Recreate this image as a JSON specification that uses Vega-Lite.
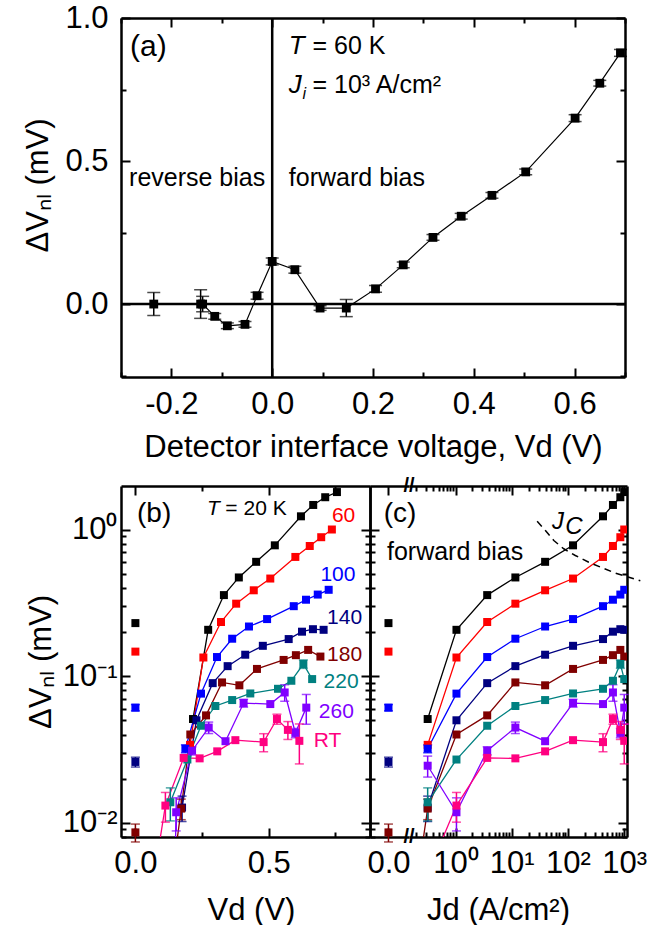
{
  "$schema": "https://vega.github.io/schema/vega-lite/v6.json",
  "background": "white",
  "padding": {"left": 22, "top": 2, "right": 0, "bottom": 0},
  "config": {
    "view": {"stroke": null},
    "font": "Liberation Sans",
    "text": {"font": "Liberation Sans", "color": "black"},
    "axis": {
      "labelFont": "Liberation Sans", "titleFont": "Liberation Sans",
      "labelFontSize": 31, "titleFontSize": 31, "titleFontWeight": "normal",
      "labelColor": "black", "titleColor": "black", "domainColor": "black", "tickColor": "black",
      "domainWidth": 2.5, "tickWidth": 2, "grid": false,
      "labelFlush": false, "labelOverlap": false, "labelBound": false
    }
  },
  "datasets": {
    "a": [
      {"V": -0.235, "y": 0.0, "e": 0.04},
      {"V": -0.142, "y": 0.0, "e": 0.05},
      {"V": -0.138, "y": 0.0, "e": 0.027},
      {"V": -0.114, "y": -0.043, "e": 0.01},
      {"V": -0.089, "y": -0.076, "e": 0.01},
      {"V": -0.054, "y": -0.071, "e": 0.01},
      {"V": -0.030, "y": 0.029, "e": 0.012},
      {"V": 0.0, "y": 0.149, "e": 0.012},
      {"V": 0.045, "y": 0.120, "e": 0.012},
      {"V": 0.095, "y": -0.014, "e": 0.008},
      {"V": 0.147, "y": -0.014, "e": 0.03},
      {"V": 0.205, "y": 0.053, "e": 0.012},
      {"V": 0.26, "y": 0.137, "e": 0.01},
      {"V": 0.319, "y": 0.233, "e": 0.01},
      {"V": 0.375, "y": 0.307, "e": 0.01},
      {"V": 0.436, "y": 0.380, "e": 0.01},
      {"V": 0.503, "y": 0.462, "e": 0.01},
      {"V": 0.601, "y": 0.650, "e": 0.012},
      {"V": 0.650, "y": 0.772, "e": 0.01},
      {"V": 0.691, "y": 0.878, "e": 0.012}
    ],
    "bc": [
      {"s": "20 K", "V": 0, "J": 0, "y": 0.23, "e": 0},
      {"s": "20 K", "V": 0.216, "J": 0.32, "y": 0.051, "e": 0},
      {"s": "20 K", "V": 0.273, "J": 1.04, "y": 0.207, "e": 0},
      {"s": "20 K", "V": 0.332, "J": 3.66, "y": 0.357, "e": 0},
      {"s": "20 K", "V": 0.388, "J": 11.6, "y": 0.471, "e": 0},
      {"s": "20 K", "V": 0.453, "J": 39.2, "y": 0.602, "e": 0},
      {"s": "20 K", "V": 0.523, "J": 123, "y": 0.78, "e": 0},
      {"s": "20 K", "V": 0.621, "J": 419, "y": 1.23, "e": 0},
      {"s": "20 K", "V": 0.667, "J": 630, "y": 1.47, "e": 0},
      {"s": "20 K", "V": 0.712, "J": 853, "y": 1.66, "e": 0},
      {"s": "20 K", "V": 0.756, "J": 1000, "y": 1.8, "e": 0},
      {"s": "60", "V": 0, "J": 0, "y": 0.147, "e": 0},
      {"s": "60", "V": 0.205, "J": 0.32, "y": 0.034, "e": 0},
      {"s": "60", "V": 0.255, "J": 1.04, "y": 0.134, "e": 0},
      {"s": "60", "V": 0.321, "J": 3.66, "y": 0.234, "e": 0},
      {"s": "60", "V": 0.378, "J": 11.6, "y": 0.312, "e": 0},
      {"s": "60", "V": 0.444, "J": 39.2, "y": 0.385, "e": 0},
      {"s": "60", "V": 0.506, "J": 123, "y": 0.463, "e": 0},
      {"s": "60", "V": 0.6, "J": 419, "y": 0.65, "e": 0},
      {"s": "60", "V": 0.654, "J": 630, "y": 0.772, "e": 0},
      {"s": "60", "V": 0.697, "J": 853, "y": 0.886, "e": 0},
      {"s": "60", "V": 0.737, "J": 1000, "y": 1.0, "e": 0},
      {"s": "100", "V": 0, "J": 0, "y": 0.061, "e": 0.003},
      {"s": "100", "V": 0.1875, "J": 0.32, "y": 0.032, "e": 0.002},
      {"s": "100", "V": 0.246, "J": 1.04, "y": 0.076, "e": 0},
      {"s": "100", "V": 0.306, "J": 3.66, "y": 0.135, "e": 0},
      {"s": "100", "V": 0.363, "J": 11.6, "y": 0.18, "e": 0},
      {"s": "100", "V": 0.426, "J": 39.2, "y": 0.218, "e": 0},
      {"s": "100", "V": 0.494, "J": 123, "y": 0.245, "e": 0},
      {"s": "100", "V": 0.594, "J": 419, "y": 0.3, "e": 0},
      {"s": "100", "V": 0.64, "J": 630, "y": 0.332, "e": 0},
      {"s": "100", "V": 0.684, "J": 853, "y": 0.36, "e": 0},
      {"s": "100", "V": 0.725, "J": 1000, "y": 0.388, "e": 0},
      {"s": "140", "V": 0, "J": 0, "y": 0.026, "e": 0.002},
      {"s": "140", "V": 0.175, "J": 0.32, "y": 0.0127, "e": 0.0025},
      {"s": "140", "V": 0.229, "J": 1.04, "y": 0.05, "e": 0},
      {"s": "140", "V": 0.29, "J": 3.66, "y": 0.0896, "e": 0},
      {"s": "140", "V": 0.346, "J": 11.6, "y": 0.117, "e": 0},
      {"s": "140", "V": 0.412, "J": 39.2, "y": 0.14, "e": 0},
      {"s": "140", "V": 0.478, "J": 123, "y": 0.161, "e": 0},
      {"s": "140", "V": 0.575, "J": 419, "y": 0.179, "e": 0},
      {"s": "140", "V": 0.625, "J": 630, "y": 0.201, "e": 0},
      {"s": "140", "V": 0.666, "J": 853, "y": 0.209, "e": 0},
      {"s": "140", "V": 0.706, "J": 1000, "y": 0.207, "e": 0},
      {"s": "180", "V": 0, "J": 0, "y": 0.0086, "e": 0.0012},
      {"s": "180", "V": 0.143, "J": 0.226, "y": 0.005, "e": 0},
      {"s": "180", "V": 0.172, "J": 0.32, "y": 0.0125, "e": 0.002},
      {"s": "180", "V": 0.206, "J": 1.04, "y": 0.04, "e": 0},
      {"s": "180", "V": 0.265, "J": 3.66, "y": 0.054, "e": 0},
      {"s": "180", "V": 0.325, "J": 11.6, "y": 0.0906, "e": 0},
      {"s": "180", "V": 0.39, "J": 39.2, "y": 0.0866, "e": 0},
      {"s": "180", "V": 0.456, "J": 123, "y": 0.112, "e": 0},
      {"s": "180", "V": 0.556, "J": 419, "y": 0.129, "e": 0},
      {"s": "180", "V": 0.602, "J": 630, "y": 0.139, "e": 0},
      {"s": "180", "V": 0.648, "J": 853, "y": 0.151, "e": 0},
      {"s": "180", "V": 0.694, "J": 1000, "y": 0.136, "e": 0},
      {"s": "220", "V": 0.131, "J": 0.32, "y": 0.0138, "e": 0.0035},
      {"s": "220", "V": 0.195, "J": 1.04, "y": 0.027, "e": 0},
      {"s": "220", "V": 0.246, "J": 3.66, "y": 0.0459, "e": 0},
      {"s": "220", "V": 0.3, "J": 11.6, "y": 0.0626, "e": 0},
      {"s": "220", "V": 0.363, "J": 39.2, "y": 0.0687, "e": 0},
      {"s": "220", "V": 0.431, "J": 123, "y": 0.0762, "e": 0},
      {"s": "220", "V": 0.535, "J": 419, "y": 0.082, "e": 0},
      {"s": "220", "V": 0.585, "J": 630, "y": 0.093, "e": 0},
      {"s": "220", "V": 0.63, "J": 853, "y": 0.121, "e": 0.008},
      {"s": "220", "V": 0.663, "J": 1000, "y": 0.0955, "e": 0},
      {"s": "260", "V": 0.148, "J": null, "y": 0.005, "e": 0},
      {"s": "260", "V": null, "J": 0.32, "y": 0.0245, "e": 0.004},
      {"s": "260", "V": 0.153, "J": 1.04, "y": 0.0118, "e": 0.003},
      {"s": "260", "V": 0.2125, "J": 3.66, "y": 0.031, "e": 0.002},
      {"s": "260", "V": 0.275, "J": 11.6, "y": 0.0446, "e": 0.004},
      {"s": "260", "V": 0.338, "J": 39.2, "y": 0.036, "e": 0},
      {"s": "260", "V": 0.406, "J": 123, "y": 0.0655, "e": 0.004},
      {"s": "260", "V": 0.506, "J": 419, "y": 0.0645, "e": 0},
      {"s": "260", "V": 0.56, "J": 630, "y": 0.0774, "e": 0.01},
      {"s": "260", "V": 0.6, "J": 853, "y": 0.041, "e": 0.003},
      {"s": "260", "V": 0.641, "J": 1000, "y": 0.061, "e": 0.014},
      {"s": "RT", "V": 0.076, "J": 0.36, "y": 0.005, "e": 0},
      {"s": "RT", "V": 0.1125, "J": 1.04, "y": 0.0131, "e": 0.003},
      {"s": "RT", "V": 0.181, "J": 3.66, "y": 0.0277, "e": 0},
      {"s": "RT", "V": 0.241, "J": 11.6, "y": 0.0275, "e": 0},
      {"s": "RT", "V": 0.307, "J": 39.2, "y": 0.0307, "e": 0},
      {"s": "RT", "V": 0.375, "J": 123, "y": 0.0366, "e": 0},
      {"s": "RT", "V": 0.481, "J": 419, "y": 0.0355, "e": 0.005},
      {"s": "RT", "V": 0.531, "J": 630, "y": 0.051, "e": 0.004},
      {"s": "RT", "V": 0.572, "J": 853, "y": 0.043, "e": 0.006},
      {"s": "RT", "V": 0.615, "J": 1000, "y": 0.0362, "e": 0.011}
    ],
    "jc": [
      {"J": 28.3, "y": 1.14}, {"J": 39.7, "y": 0.984}, {"J": 56, "y": 0.841},
      {"J": 84, "y": 0.739}, {"J": 135, "y": 0.665}, {"J": 234, "y": 0.598},
      {"J": 404, "y": 0.548}, {"J": 695, "y": 0.504}, {"J": 1932, "y": 0.447}
    ]
  },
  "spacing": 109,
  "bounds": "flush",
  "vconcat": [
    {
      "width": 504, "height": 359,
      "data": {"name": "a"},
      "resolve": {"axis": {"x": "independent", "y": "independent"}},
      "layer": [
        {
          "mark": {"type": "point", "opacity": 0},
          "encoding": {
            "x": {"field": "V", "type": "quantitative", "scale": {"domain": [-0.3, 0.7], "nice": false, "zero": false},
              "axis": {"orient": "bottom", "values": [-0.3, -0.2, -0.1, 0, 0.1, 0.2, 0.3, 0.4, 0.5, 0.6, 0.7],
                "labelExpr": "abs(round(datum.value*10)) % 2 == 0 ? replace(format(datum.value, '.1f'), '−', '-') : ''",
                "tickSize": {"condition": {"test": "abs(round(datum.value*10)) % 2 == 0", "value": -9}, "value": -5},
                "labelPadding": 21, "title": "Detector interface voltage, Vd (V)", "titleY": 79, "titleBaseline": "alphabetic"}},
            "y": {"field": "y", "type": "quantitative", "scale": {"domain": [-0.255, 1.0], "nice": false, "zero": false},
              "axis": {"orient": "left", "values": [-0.25, 0, 0.25, 0.5, 0.75, 1.0],
                "labelExpr": "abs(round(datum.value*4)) % 2 == 0 ? format(datum.value, '.1f') : ''",
                "tickSize": {"condition": {"test": "abs(round(datum.value*4)) % 2 == 0", "value": -9}, "value": -5},
                "labelPadding": 22, "title": "ΔVₙₗ (mV)", "titleX": -83, "titleY": 167, "titleBaseline": "middle"}}
          }
        },
        {
          "mark": {"type": "point", "opacity": 0},
          "encoding": {
            "x": {"field": "V", "type": "quantitative", "scale": {"domain": [-0.3, 0.7], "nice": false, "zero": false},
              "axis": {"orient": "top", "values": [-0.3, -0.2, -0.1, 0, 0.1, 0.2, 0.3, 0.4, 0.5, 0.6, 0.7], "labels": false, "title": null,
                "tickSize": {"condition": {"test": "abs(round(datum.value*10)) % 2 == 0", "value": -9}, "value": -5}}},
            "y": {"field": "y", "type": "quantitative", "scale": {"domain": [-0.255, 1.0], "nice": false, "zero": false},
              "axis": {"orient": "right", "values": [-0.25, 0, 0.25, 0.5, 0.75, 1.0], "labels": false, "title": null,
                "tickSize": {"condition": {"test": "abs(round(datum.value*4)) % 2 == 0", "value": -9}, "value": -5}}}
          }
        },
        {
          "data": {"values": [{"V": 0}]},
          "mark": {"type": "rule", "strokeWidth": 2.5, "color": "black"},
          "encoding": {"x": {"field": "V", "type": "quantitative", "scale": {"domain": [-0.3, 0.7], "nice": false, "zero": false}, "axis": null}}
        },
        {
          "data": {"values": [{"y": 0}]},
          "mark": {"type": "rule", "strokeWidth": 2.5, "color": "black"},
          "encoding": {"y": {"field": "y", "type": "quantitative", "scale": {"domain": [-0.255, 1.0], "nice": false, "zero": false}, "axis": null}}
        },
        {
          "mark": {"type": "line", "color": "black", "strokeWidth": 1.2},
          "encoding": {
            "x": {"field": "V", "type": "quantitative", "scale": {"domain": [-0.3, 0.7], "nice": false, "zero": false}, "axis": null},
            "y": {"field": "y", "type": "quantitative", "scale": {"domain": [-0.255, 1.0], "nice": false, "zero": false}, "axis": null}
          }
        },
        {
          "mark": {"type": "errorbar", "ticks": {"size": 13}, "thickness": 1.5, "color": "black"},
          "encoding": {
            "x": {"field": "V", "type": "quantitative", "scale": {"domain": [-0.3, 0.7], "nice": false, "zero": false}, "axis": null},
            "y": {"field": "y", "type": "quantitative", "scale": {"domain": [-0.255, 1.0], "nice": false, "zero": false}, "axis": null},
            "yError": {"field": "e"}
          }
        },
        {
          "mark": {"type": "square", "size": 78, "color": "black", "opacity": 1},
          "encoding": {
            "x": {"field": "V", "type": "quantitative", "scale": {"domain": [-0.3, 0.7], "nice": false, "zero": false}, "axis": null},
            "y": {"field": "y", "type": "quantitative", "scale": {"domain": [-0.255, 1.0], "nice": false, "zero": false}, "axis": null}
          }
        },
        {
          "data": {"values": [
            {"V": 0.033, "y": 0.44, "t": "forward bias"},
            {"V": -0.284, "y": 0.44, "t": "reverse bias"},
            {"V": 0.080, "y": 0.901, "t": "= 60 K"},
            {"V": 0.080, "y": 0.767, "t": "= 10³ A/cm²"}
          ]},
          "mark": {"type": "text", "fontSize": 25, "align": "left", "baseline": "middle"},
          "encoding": {
            "x": {"field": "V", "type": "quantitative", "scale": {"domain": [-0.3, 0.7], "nice": false, "zero": false}, "axis": null},
            "y": {"field": "y", "type": "quantitative", "scale": {"domain": [-0.255, 1.0], "nice": false, "zero": false}, "axis": null},
            "text": {"field": "t"}
          }
        },
        {
          "data": {"values": [
            {"V": 0.033, "y": 0.901, "t": "T"},
            {"V": 0.033, "y": 0.767, "t": "J"}
          ]},
          "mark": {"type": "text", "fontSize": 26, "fontStyle": "italic", "align": "left", "baseline": "middle"},
          "encoding": {
            "x": {"field": "V", "type": "quantitative", "scale": {"domain": [-0.3, 0.7], "nice": false, "zero": false}, "axis": null},
            "y": {"field": "y", "type": "quantitative", "scale": {"domain": [-0.255, 1.0], "nice": false, "zero": false}, "axis": null},
            "text": {"field": "t"}
          }
        },
        {
          "data": {"values": [{"V": 0.060, "y": 0.735, "t": "i"}]},
          "mark": {"type": "text", "fontSize": 16, "fontStyle": "italic", "align": "left", "baseline": "middle"},
          "encoding": {
            "x": {"field": "V", "type": "quantitative", "scale": {"domain": [-0.3, 0.7], "nice": false, "zero": false}, "axis": null},
            "y": {"field": "y", "type": "quantitative", "scale": {"domain": [-0.255, 1.0], "nice": false, "zero": false}, "axis": null},
            "text": {"field": "t"}
          }
        },
        {
          "data": {"values": [{"V": -0.282, "y": 0.9, "t": "(a)"}]},
          "mark": {"type": "text", "fontSize": 30, "align": "left", "baseline": "middle"},
          "encoding": {
            "x": {"field": "V", "type": "quantitative", "scale": {"domain": [-0.3, 0.7], "nice": false, "zero": false}, "axis": null},
            "y": {"field": "y", "type": "quantitative", "scale": {"domain": [-0.255, 1.0], "nice": false, "zero": false}, "axis": null},
            "text": {"field": "t"}
          }
        }
      ]
    },
    {
      "spacing": 0,
      "bounds": "flush",
      "hconcat": [
        {
          "width": 249, "height": 351,
          "data": {"name": "bc"},
          "resolve": {"axis": {"x": "independent", "y": "independent"}},
          "layer": [
            {
              "transform": [{"filter": "isValid(datum.V)"}],
              "mark": {"type": "point", "opacity": 0},
              "encoding": {
                "x": {"field": "V", "type": "quantitative", "scale": {"domain": [-0.054, 0.88], "nice": false, "zero": false},
                  "axis": {"orient": "bottom", "values": [0, 0.25, 0.5, 0.75],
                    "labelExpr": "datum.value == 0 ? '0.0' : datum.value == 0.5 ? '0.5' : ''",
                    "tickSize": {"condition": {"test": "datum.value == 0 || datum.value == 0.5", "value": -9}, "value": -5},
                    "labelPadding": 20, "title": "Vd (V)", "titleX": 130, "titleY": 82, "titleBaseline": "alphabetic"}},
                "y": {"field": "y", "type": "quantitative", "scale": {"type": "log", "domain": [0.008, 1.98], "nice": false},
                  "axis": {"orient": "left", "values": [0.008, 0.009, 0.01, 0.02, 0.03, 0.04, 0.05, 0.06, 0.07, 0.08, 0.09, 0.1, 0.2, 0.3, 0.4, 0.5, 0.6, 0.7, 0.8, 0.9, 1],
                    "labelExpr": "datum.value == 1 ? '10⁰' : datum.value == 0.1 ? '10⁻¹' : datum.value == 0.01 ? '10⁻²' : ''",
                    "tickSize": {"condition": {"test": "datum.value == 1 || datum.value == 0.1 || datum.value == 0.01", "value": -9}, "value": -5},
                    "labelPadding": 13, "title": "ΔVₙₗ (mV)", "titleX": -80, "titleBaseline": "middle"}}
              }
            },
            {
              "transform": [{"filter": "isValid(datum.V)"}],
              "mark": {"type": "point", "opacity": 0},
              "encoding": {
                "x": {"field": "V", "type": "quantitative", "scale": {"domain": [-0.054, 0.88], "nice": false, "zero": false},
                  "axis": {"orient": "top", "values": [0, 0.25, 0.5, 0.75], "labels": false, "title": null,
                    "tickSize": {"condition": {"test": "datum.value == 0 || datum.value == 0.5", "value": -9}, "value": -5}}},
                "y": {"field": "y", "type": "quantitative", "scale": {"type": "log", "domain": [0.008, 1.98], "nice": false},
                  "axis": {"orient": "right", "values": [0.008, 0.009, 0.01, 0.02, 0.03, 0.04, 0.05, 0.06, 0.07, 0.08, 0.09, 0.1, 0.2, 0.3, 0.4, 0.5, 0.6, 0.7, 0.8, 0.9, 1],
                    "labels": false, "title": null,
                    "tickSize": {"condition": {"test": "datum.value == 1 || datum.value == 0.1 || datum.value == 0.01", "value": -9}, "value": -5}}}
              }
            },
            {
              "transform": [{"filter": "isValid(datum.V) && datum.V > 0"}],
              "mark": {"type": "line", "strokeWidth": 1.3, "clip": true},
              "encoding": {
                "x": {"field": "V", "type": "quantitative", "scale": {"domain": [-0.054, 0.88], "nice": false, "zero": false}, "axis": null},
                "y": {"field": "y", "type": "quantitative", "scale": {"type": "log", "domain": [0.008, 1.98], "nice": false}, "axis": null},
                "color": {"field": "s", "type": "nominal", "scale": {"domain": ["20 K", "60", "100", "140", "180", "220", "260", "RT"], "range": ["#000000", "#ff0000", "#0000ff", "#000080", "#800000", "#008080", "#8000ff", "#ff0080"]}, "legend": null}
              }
            },
            {
              "transform": [{"filter": "isValid(datum.V) && datum.e > 0"}],
              "mark": {"type": "errorbar", "ticks": {"size": 9}, "thickness": 1.5},
              "encoding": {
                "x": {"field": "V", "type": "quantitative", "scale": {"domain": [-0.054, 0.88], "nice": false, "zero": false}, "axis": null},
                "y": {"field": "y", "type": "quantitative", "scale": {"type": "log", "domain": [0.008, 1.98], "nice": false}, "axis": null},
                "yError": {"field": "e"},
                "color": {"field": "s", "type": "nominal", "scale": {"domain": ["20 K", "60", "100", "140", "180", "220", "260", "RT"], "range": ["#000000", "#ff0000", "#0000ff", "#000080", "#800000", "#008080", "#8000ff", "#ff0080"]}, "legend": null}
              }
            },
            {
              "transform": [{"filter": "isValid(datum.V)"}],
              "mark": {"type": "square", "size": 64, "opacity": 1, "clip": true},
              "encoding": {
                "x": {"field": "V", "type": "quantitative", "scale": {"domain": [-0.054, 0.88], "nice": false, "zero": false}, "axis": null},
                "y": {"field": "y", "type": "quantitative", "scale": {"type": "log", "domain": [0.008, 1.98], "nice": false}, "axis": null},
                "color": {"field": "s", "type": "nominal", "scale": {"domain": ["20 K", "60", "100", "140", "180", "220", "260", "RT"], "range": ["#000000", "#ff0000", "#0000ff", "#000080", "#800000", "#008080", "#8000ff", "#ff0080"]}, "legend": null}
              }
            },
            {
              "data": {"values": [
                {"V": 0.737, "y": 1.24, "t": "60", "s": "60"},
                {"V": 0.694, "y": 0.489, "t": "100", "s": "100"},
                {"V": 0.719, "y": 0.251, "t": "140", "s": "140"},
                {"V": 0.719, "y": 0.139, "t": "180", "s": "180"},
                {"V": 0.706, "y": 0.0916, "t": "220", "s": "220"},
                {"V": 0.688, "y": 0.0572, "t": "260", "s": "260"},
                {"V": 0.669, "y": 0.0363, "t": "RT", "s": "RT"}
              ]},
              "mark": {"type": "text", "fontSize": 21, "align": "left", "baseline": "middle"},
              "encoding": {
                "x": {"field": "V", "type": "quantitative", "scale": {"domain": [-0.054, 0.88], "nice": false, "zero": false}, "axis": null},
                "y": {"field": "y", "type": "quantitative", "scale": {"type": "log", "domain": [0.008, 1.98], "nice": false}, "axis": null},
                "text": {"field": "t"},
                "color": {"field": "s", "type": "nominal", "scale": {"domain": ["20 K", "60", "100", "140", "180", "220", "260", "RT"], "range": ["#000000", "#ff0000", "#0000ff", "#000080", "#800000", "#008080", "#8000ff", "#ff0080"]}, "legend": null}
              }
            },
            {
              "data": {"values": [{"V": 0.3375, "y": 1.375, "t": "= 20 K"}]},
              "mark": {"type": "text", "fontSize": 21, "align": "left", "baseline": "middle"},
              "encoding": {
                "x": {"field": "V", "type": "quantitative", "scale": {"domain": [-0.054, 0.88], "nice": false, "zero": false}, "axis": null},
                "y": {"field": "y", "type": "quantitative", "scale": {"type": "log", "domain": [0.008, 1.98], "nice": false}, "axis": null},
                "text": {"field": "t"}
              }
            },
            {
              "data": {"values": [{"V": 0.269, "y": 1.375, "t": "T"}]},
              "mark": {"type": "text", "fontSize": 21, "fontStyle": "italic", "align": "left", "baseline": "middle"},
              "encoding": {
                "x": {"field": "V", "type": "quantitative", "scale": {"domain": [-0.054, 0.88], "nice": false, "zero": false}, "axis": null},
                "y": {"field": "y", "type": "quantitative", "scale": {"type": "log", "domain": [0.008, 1.98], "nice": false}, "axis": null},
                "text": {"field": "t"}
              }
            },
            {
              "data": {"values": [{"V": 0.006, "y": 1.27, "t": "(b)"}]},
              "mark": {"type": "text", "fontSize": 28, "align": "left", "baseline": "middle"},
              "encoding": {
                "x": {"field": "V", "type": "quantitative", "scale": {"domain": [-0.054, 0.88], "nice": false, "zero": false}, "axis": null},
                "y": {"field": "y", "type": "quantitative", "scale": {"type": "log", "domain": [0.008, 1.98], "nice": false}, "axis": null},
                "text": {"field": "t"}
              }
            }
          ]
        },
        {
          "width": 39, "height": 351,
          "data": {"name": "bc"},
          "resolve": {"axis": {"x": "independent", "y": "independent"}},
          "layer": [
            {
              "transform": [{"filter": "datum.J === 0"}],
              "mark": {"type": "point", "opacity": 0},
              "encoding": {
                "x": {"field": "J", "type": "quantitative", "scale": {"domain": [-0.9, 1.0], "nice": false, "zero": false},
                  "axis": {"orient": "bottom", "values": [0], "labelExpr": "'0.0'", "tickSize": -9, "labelPadding": 20, "title": null}},
                "y": {"field": "y", "type": "quantitative", "scale": {"type": "log", "domain": [0.008, 1.98], "nice": false},
                  "axis": {"orient": "left", "values": [0.008, 0.009, 0.01, 0.02, 0.03, 0.04, 0.05, 0.06, 0.07, 0.08, 0.09, 0.1, 0.2, 0.3, 0.4, 0.5, 0.6, 0.7, 0.8, 0.9, 1],
                    "labels": false, "title": null,
                    "tickSize": {"condition": {"test": "datum.value == 1 || datum.value == 0.1 || datum.value == 0.01", "value": -9}, "value": -5}}}
              }
            },
            {
              "transform": [{"filter": "datum.J === 0"}],
              "mark": {"type": "point", "opacity": 0},
              "encoding": {
                "x": {"field": "J", "type": "quantitative", "scale": {"domain": [-0.9, 1.0], "nice": false, "zero": false},
                  "axis": {"orient": "top", "values": [0], "labels": false, "tickSize": -9, "title": null}},
                "y": {"field": "y", "type": "quantitative", "scale": {"type": "log", "domain": [0.008, 1.98], "nice": false}, "axis": null}
              }
            },
            {
              "transform": [{"filter": "datum.J === 0 && datum.e > 0"}],
              "mark": {"type": "errorbar", "ticks": {"size": 9}, "thickness": 1.5},
              "encoding": {
                "x": {"field": "J", "type": "quantitative", "scale": {"domain": [-0.9, 1.0], "nice": false, "zero": false}, "axis": null},
                "y": {"field": "y", "type": "quantitative", "scale": {"type": "log", "domain": [0.008, 1.98], "nice": false}, "axis": null},
                "yError": {"field": "e"},
                "color": {"field": "s", "type": "nominal", "scale": {"domain": ["20 K", "60", "100", "140", "180", "220", "260", "RT"], "range": ["#000000", "#ff0000", "#0000ff", "#000080", "#800000", "#008080", "#8000ff", "#ff0080"]}, "legend": null}
              }
            },
            {
              "transform": [{"filter": "datum.J === 0"}],
              "mark": {"type": "square", "size": 64, "opacity": 1, "clip": true},
              "encoding": {
                "x": {"field": "J", "type": "quantitative", "scale": {"domain": [-0.9, 1.0], "nice": false, "zero": false}, "axis": null},
                "y": {"field": "y", "type": "quantitative", "scale": {"type": "log", "domain": [0.008, 1.98], "nice": false}, "axis": null},
                "color": {"field": "s", "type": "nominal", "scale": {"domain": ["20 K", "60", "100", "140", "180", "220", "260", "RT"], "range": ["#000000", "#ff0000", "#0000ff", "#000080", "#800000", "#008080", "#8000ff", "#ff0080"]}, "legend": null}
              }
            },
            {
              "data": {"values": [{"J": -0.234, "y": 1.27, "t": "(c)"}]},
              "mark": {"type": "text", "fontSize": 28, "align": "left", "baseline": "middle", "clip": false},
              "encoding": {
                "x": {"field": "J", "type": "quantitative", "scale": {"domain": [-0.9, 1.0], "nice": false, "zero": false}, "axis": null},
                "y": {"field": "y", "type": "quantitative", "scale": {"type": "log", "domain": [0.008, 1.98], "nice": false}, "axis": null},
                "text": {"field": "t"}
              }
            },
            {
              "data": {"values": [{"J": -0.073, "y": 0.697, "t": "forward bias"}]},
              "mark": {"type": "text", "fontSize": 25, "align": "left", "baseline": "middle", "clip": false},
              "encoding": {
                "x": {"field": "J", "type": "quantitative", "scale": {"domain": [-0.9, 1.0], "nice": false, "zero": false}, "axis": null},
                "y": {"field": "y", "type": "quantitative", "scale": {"type": "log", "domain": [0.008, 1.98], "nice": false}, "axis": null},
                "text": {"field": "t"}
              }
            }
          ]
        },
        {
          "width": 218, "height": 351,
          "data": {"name": "bc"},
          "resolve": {"axis": {"x": "independent", "y": "independent"}},
          "layer": [
            {
              "transform": [{"filter": "isValid(datum.J) && datum.J > 0"}],
              "mark": {"type": "point", "opacity": 0},
              "encoding": {
                "x": {"field": "J", "type": "quantitative", "scale": {"type": "log", "domain": [0.149, 1120], "nice": false},
                  "axis": {"orient": "bottom", "values": [0.2, 0.3, 0.4, 0.5, 0.6, 0.7, 0.8, 0.9, 1, 2, 3, 4, 5, 6, 7, 8, 9, 10, 20, 30, 40, 50, 60, 70, 80, 90, 100, 200, 300, 400, 500, 600, 700, 800, 900, 1000],
                    "labelExpr": "datum.value == 1 ? '10⁰' : datum.value == 10 ? '10¹' : datum.value == 100 ? '10²' : datum.value == 1000 ? '10³' : ''",
                    "tickSize": {"condition": {"test": "datum.value == 1 || datum.value == 10 || datum.value == 100 || datum.value == 1000", "value": -9}, "value": -5},
                    "labelPadding": 20, "title": "Jd (A/cm²)", "titleX": 89, "titleY": 82, "titleBaseline": "alphabetic"}},
                "y": {"field": "y", "type": "quantitative", "scale": {"type": "log", "domain": [0.008, 1.98], "nice": false}, "axis": null}
              }
            },
            {
              "transform": [{"filter": "isValid(datum.J) && datum.J > 0"}],
              "mark": {"type": "point", "opacity": 0},
              "encoding": {
                "x": {"field": "J", "type": "quantitative", "scale": {"type": "log", "domain": [0.149, 1120], "nice": false},
                  "axis": {"orient": "top", "values": [0.2, 0.3, 0.4, 0.5, 0.6, 0.7, 0.8, 0.9, 1, 2, 3, 4, 5, 6, 7, 8, 9, 10, 20, 30, 40, 50, 60, 70, 80, 90, 100, 200, 300, 400, 500, 600, 700, 800, 900, 1000],
                    "labels": false, "title": null,
                    "tickSize": {"condition": {"test": "datum.value == 1 || datum.value == 10 || datum.value == 100 || datum.value == 1000", "value": -9}, "value": -5}}},
                "y": {"field": "y", "type": "quantitative", "scale": {"type": "log", "domain": [0.008, 1.98], "nice": false},
                  "axis": {"orient": "right", "values": [0.008, 0.009, 0.01, 0.02, 0.03, 0.04, 0.05, 0.06, 0.07, 0.08, 0.09, 0.1, 0.2, 0.3, 0.4, 0.5, 0.6, 0.7, 0.8, 0.9, 1],
                    "labels": false, "title": null,
                    "tickSize": {"condition": {"test": "datum.value == 1 || datum.value == 0.1 || datum.value == 0.01", "value": -9}, "value": -5}}}
              }
            },
            {
              "transform": [{"filter": "isValid(datum.J) && datum.J > 0"}],
              "mark": {"type": "line", "strokeWidth": 1.3, "clip": true},
              "encoding": {
                "x": {"field": "J", "type": "quantitative", "scale": {"type": "log", "domain": [0.149, 1120], "nice": false}, "axis": null},
                "y": {"field": "y", "type": "quantitative", "scale": {"type": "log", "domain": [0.008, 1.98], "nice": false}, "axis": null},
                "color": {"field": "s", "type": "nominal", "scale": {"domain": ["20 K", "60", "100", "140", "180", "220", "260", "RT"], "range": ["#000000", "#ff0000", "#0000ff", "#000080", "#800000", "#008080", "#8000ff", "#ff0080"]}, "legend": null}
              }
            },
            {
              "transform": [{"filter": "isValid(datum.J) && datum.J > 0 && datum.e > 0"}],
              "mark": {"type": "errorbar", "ticks": {"size": 9}, "thickness": 1.5},
              "encoding": {
                "x": {"field": "J", "type": "quantitative", "scale": {"type": "log", "domain": [0.149, 1120], "nice": false}, "axis": null},
                "y": {"field": "y", "type": "quantitative", "scale": {"type": "log", "domain": [0.008, 1.98], "nice": false}, "axis": null},
                "yError": {"field": "e"},
                "color": {"field": "s", "type": "nominal", "scale": {"domain": ["20 K", "60", "100", "140", "180", "220", "260", "RT"], "range": ["#000000", "#ff0000", "#0000ff", "#000080", "#800000", "#008080", "#8000ff", "#ff0080"]}, "legend": null}
              }
            },
            {
              "transform": [{"filter": "isValid(datum.J) && datum.J > 0"}],
              "mark": {"type": "square", "size": 64, "opacity": 1, "clip": true},
              "encoding": {
                "x": {"field": "J", "type": "quantitative", "scale": {"type": "log", "domain": [0.149, 1120], "nice": false}, "axis": null},
                "y": {"field": "y", "type": "quantitative", "scale": {"type": "log", "domain": [0.008, 1.98], "nice": false}, "axis": null},
                "color": {"field": "s", "type": "nominal", "scale": {"domain": ["20 K", "60", "100", "140", "180", "220", "260", "RT"], "range": ["#000000", "#ff0000", "#0000ff", "#000080", "#800000", "#008080", "#8000ff", "#ff0080"]}, "legend": null}
              }
            },
            {
              "data": {"name": "jc"},
              "mark": {"type": "line", "color": "black", "strokeWidth": 1.5, "strokeDash": [7, 5], "clip": false},
              "encoding": {
                "x": {"field": "J", "type": "quantitative", "scale": {"type": "log", "domain": [0.149, 1120], "nice": false}, "axis": null},
                "y": {"field": "y", "type": "quantitative", "scale": {"type": "log", "domain": [0.008, 1.98], "nice": false}, "axis": null}
              }
            },
            {
              "data": {"values": [{"J": 66.4, "y": 1.12, "t": "J"}, {"J": 128, "y": 1.04, "t": "C"}]},
              "mark": {"type": "text", "fontSize": 24, "fontStyle": "italic", "align": "center", "baseline": "middle", "clip": false},
              "encoding": {
                "x": {"field": "J", "type": "quantitative", "scale": {"type": "log", "domain": [0.149, 1120], "nice": false}, "axis": null},
                "y": {"field": "y", "type": "quantitative", "scale": {"type": "log", "domain": [0.008, 1.98], "nice": false}, "axis": null},
                "text": {"field": "t"}
              }
            },
            {
              "data": {"values": [{"J": 0.149, "y": 1.98, "t": "//"}, {"J": 0.149, "y": 0.008, "t": "//"}]},
              "mark": {"type": "text", "fontSize": 20, "fontWeight": "bold", "align": "center", "baseline": "middle", "clip": false},
              "encoding": {
                "x": {"field": "J", "type": "quantitative", "scale": {"type": "log", "domain": [0.149, 1120], "nice": false}, "axis": null},
                "y": {"field": "y", "type": "quantitative", "scale": {"type": "log", "domain": [0.008, 1.98], "nice": false}, "axis": null},
                "text": {"field": "t"}
              }
            }
          ]
        }
      ]
    }
  ]
}
